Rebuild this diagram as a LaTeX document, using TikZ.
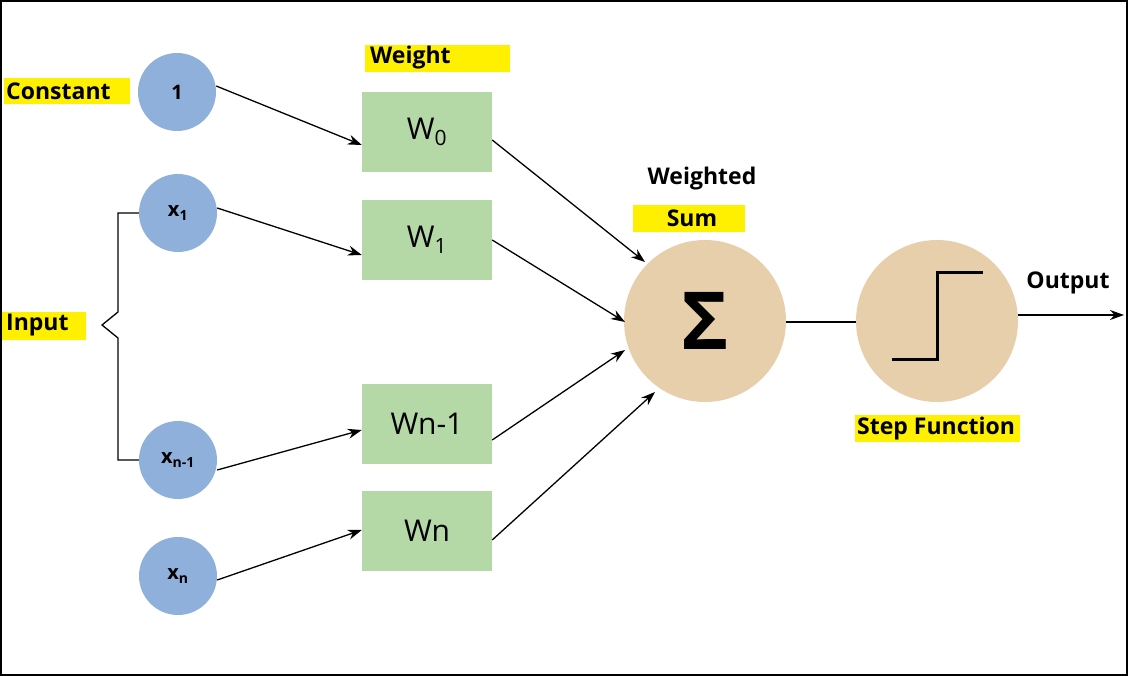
\documentclass[tikz,border=0pt]{standalone}
\usepackage{fontspec}
\setmainfont{Open Sans}
\usetikzlibrary{arrows.meta,calc}
\definecolor{blu}{HTML}{8FB0DB}
\definecolor{grn}{HTML}{B5D9A6}
\definecolor{bei}{HTML}{E8CFAC}
\definecolor{hl}{HTML}{FFF000}
\begin{document}
\begin{tikzpicture}[x=1pt,y=-1pt,
 inp/.style={circle,fill=blu,minimum size=78pt,inner sep=0pt,font=\fontsize{20}{20}\selectfont\bfseries},
 wb/.style={rectangle,fill=grn,minimum width=130pt,minimum height=80pt,inner sep=0pt,font=\fontsize{30}{30}\selectfont},
 big/.style={circle,fill=bei,minimum size=162pt,inner sep=0pt},
 lab/.style={font=\fontsize{23}{23}\selectfont\bfseries,inner sep=0pt},
 arr/.style={-{Stealth[length=14pt,width=10pt]},line width=1.3pt}]
\useasboundingbox (0,0) rectangle (1128,676);
\draw[line width=1.5pt] (1,1) rectangle (1127,675);
% highlights
\fill[hl] (4,78) rectangle (130,104);
\fill[hl] (365,45) rectangle (510,72);
\fill[hl] (2,312) rectangle (86,340);
\fill[hl] (633,205) rectangle (745,232);
\fill[hl] (855,415) rectangle (1020,442);
\node[lab,anchor=west] (lc) at (6,91) {Constant};
\node[lab,anchor=west] (lw) at (370,58) {Weight};
\node[lab,anchor=west] (li) at (6,325) {Input};
\node[lab] (lws) at (702,179) {Weighted};
\node[lab] (lsum) at (692,218) {Sum};
\node[lab,anchor=west] (lsf) at (857,429) {Step Function};
\node[lab] (lo) at (1068,283) {Output};
\node[inp] (c1) at (177,92) {1};
\node[inp] (x1) at (178,213) {x\textsubscript{1}};
\node[inp] (xn1) at (178,460) {x\textsubscript{n-1}};
\node[inp] (xn) at (178,576) {x\textsubscript{n}};
\node[wb] (w0) at (427,132) {W\textsubscript{0}};
\node[wb] (w1) at (427,240) {W\textsubscript{1}};
\node[wb] (wn1) at (427,424) {Wn-1};
\node[wb] (wn) at (427,531) {Wn};
\node[big] (s) at (705,321) {\fontsize{80}{80}\selectfont\bfseries Σ};
\node[big] (st) at (937,321) {};
\draw[line width=3pt] ($(st)+(-45,39)$) -- ($(st)+(0,39)$) -- ($(st)+(0,-48)$) -- ($(st)+(46,-48)$);
\coordinate (out) at (1124,315);
\draw[arr] ($(c1.east)+(0,-6)$) -- (w0.west |- 0,145);
\draw[arr] ($(x1.east)+(0,-5)$) -- (w1.west |- 0,255);
\draw[arr] ($(xn1.east)+(0,10)$) -- (wn1.west |- 0,430);
\draw[arr] ($(xn.east)+(0,4)$) -- (wn.west |- 0,530);
\draw[arr] (w0.east |- 0,140) -- (645,262);
\draw[arr] (w1.east |- 0,240) -- (625,322);
\draw[arr] (wn1.east |- 0,440) -- (625,350);
\draw[arr] (wn.east |- 0,540) -- (655,392);
\draw[line width=1.3pt] (s.east |- 0,322) -- (st.west |- 0,322);
\draw[arr] (st.east |- 0,315) -- (out);
\draw[line width=1.3pt] (x1.west) -- (118,213) -- (118,312) -- (102,325) -- (118,338) -- (118,460) -- (xn1.west);
\end{tikzpicture}
\end{document}
